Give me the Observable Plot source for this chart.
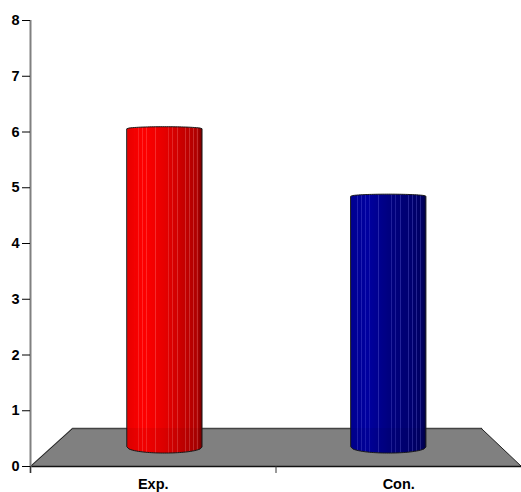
<!DOCTYPE html>
<html>
<head>
<meta charset="utf-8">
<style>html,body{margin:0;padding:0;background:#fff}svg{display:block}</style>
<script src="https://cdn.jsdelivr.net/npm/d3@7"></script>
<script src="https://cdn.jsdelivr.net/npm/@observablehq/plot@0.6"></script>
</head>
<body>
<script>
const categories = ["Exp.", "Con."];
const values = [6.05, 4.84];
const categoryPositions = [0.5, 1.5];
const barCenters = [0.548, 1.46];
const barFills = ["url(#cylRed)", "url(#cylBlue)"];
const yTicks = [0, 1, 2, 3, 4, 5, 6, 7, 8];
const xTicks = [0, 1, 2];
const floorX = [0, 0.171, 1.837, 2];
const floorTop = [0, 0.68, 0.68, 0];

const barBase = 0.34, halfW = 0.1527, capSag = 0.036, baseSag = 0.108, floorBack = 0.68;

// Elliptical profile of a cylinder's top and bottom edges
function cylinder(center, value) {
  return d3.range(0, 41).map(i => {
    const t = i / 40, u = 2 * t - 1, s = Math.sqrt(1 - u * u);
    return {x: center + u * halfW, top: value + capSag * s, bottom: barBase - baseSag * s};
  });
}

const floor = floorX.map((x, i) => ({x, top: floorTop[i]}));
const marks = [
  Plot.areaY(floor, {x: "x", y1: 0, y2: "top", fill: "#808080"}),
  Plot.line(floor.slice(0, 2), {x: "x", y: "top", stroke: "#222", strokeWidth: 1}),
  Plot.line(floor.slice(1, 3), {x: "x", y: "top", stroke: "#444", strokeWidth: 1.5}),
  Plot.line(floor.slice(2, 4), {x: "x", y: "top", stroke: "#222", strokeWidth: 1}),
  Plot.ruleY([0], {x1: 0, x2: 2, stroke: "#111", strokeWidth: 1.5}),
  Plot.ruleX([0], {y1: -0.125, y2: 8, stroke: "#808080", strokeWidth: 2}),
  Plot.ruleX(xTicks, {y1: -0.125, y2: 0, stroke: "#333", strokeWidth: 1})
];
barCenters.forEach((c, i) => {
  const pts = cylinder(c, values[i]);
  marks.push(Plot.areaY(pts, {x: "x", y1: "bottom", y2: "top", fill: barFills[i], stroke: "#1a1a1a", strokeWidth: 1}));
  marks.push(Plot.areaY(pts, {x: "x", y1: "bottom", y2: floorBack, fill: "#000", fillOpacity: 0.05}));
});
marks.push(
  Plot.axisY({ticks: yTicks, tickSize: 8, tickPadding: 3, tickFormat: d3.format("d"), label: null, stroke: "#000"}),
  Plot.axisX({ticks: categoryPositions, tickSize: 0, tickPadding: 12, tickFormat: (d, i) => categories[i], label: null})
);

const svg = Plot.plot({
  width: 521, height: 492,
  marginLeft: 30, marginRight: 0, marginTop: 20, marginBottom: 26,
  x: {type: "linear", domain: [0, 2]},
  y: {type: "linear", domain: [0, 8]},
  style: {fontFamily: "'Liberation Sans', Arial, sans-serif", fontSize: "14.5px", fontWeight: "bold", color: "#000", background: "#fff", overflow: "visible"},
  marks
});

// Shading of the cylinders: base ramp plus light streaks at the picture's positions
const streaks = [7, 11, 15, 19, 28, 41, 45, 50, 58, 62, 66, 70].map(d => d / 75);
function gradient(id, ramp, light) {
  const scale = d3.scaleLinear([0, .22, .5, .8, .97, 1], ramp);
  const ns = "http://www.w3.org/2000/svg";
  const g = document.createElementNS(ns, "linearGradient");
  g.setAttribute("id", id);
  const stop = (o, c) => {
    const s = document.createElementNS(ns, "stop");
    s.setAttribute("offset", o);
    s.setAttribute("stop-color", c);
    g.appendChild(s);
  };
  let pos = [];
  d3.range(0, 1.0001, 0.05).forEach(o => pos.push({o, c: scale(o)}));
  streaks.forEach(o => {
    const w = 0.007;
    pos.push({o: o - w, c: scale(o - w)}, {o: o - w + 1e-4, c: d3.interpolateRgb(scale(o), light)(0.25)},
             {o: o + w, c: d3.interpolateRgb(scale(o), light)(0.25)}, {o: o + w + 1e-4, c: scale(o + w)});
  });
  pos.sort((a, b) => a.o - b.o).forEach(p => stop(p.o, p.c));
  return g;
}
const defs = document.createElementNS("http://www.w3.org/2000/svg", "defs");
defs.appendChild(gradient("cylRed", ["#e80000", "#ff0000", "#e60000", "#c00000", "#a80000", "#700000"], "#ffb0b0"));
defs.appendChild(gradient("cylBlue", ["#000090", "#0000a0", "#000080", "#000070", "#000060", "#000040"], "#9090ff"));
svg.insertBefore(defs, svg.firstChild);
document.body.appendChild(svg);
</script>
</body>
</html>
